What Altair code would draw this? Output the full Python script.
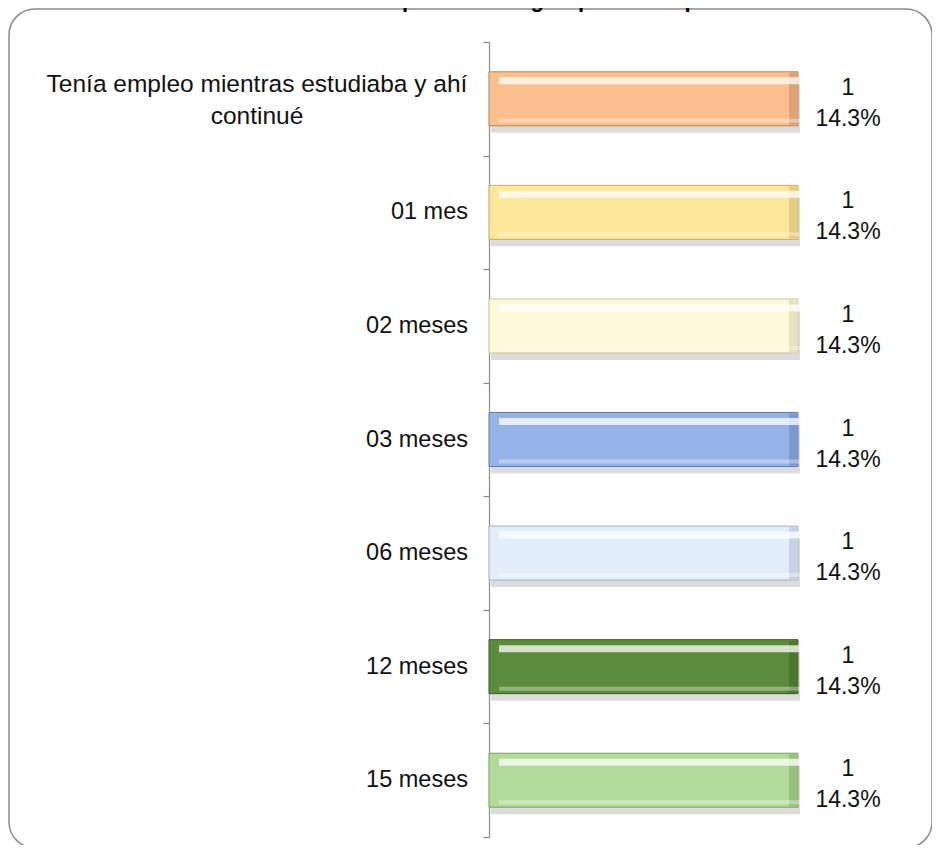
import altair as alt
import pandas as pd

title_text = "Gráfico 1: Tiempo en conseguir primer empleo"
categories = [
    "Tenía empleo mientras estudiaba y ahí\ncontinué",
    "01 mes",
    "02 meses",
    "03 meses",
    "06 meses",
    "12 meses",
    "15 meses",
]
counts = [1, 1, 1, 1, 1, 1, 1]
percents = [14.3, 14.3, 14.3, 14.3, 14.3, 14.3, 14.3]
fill_colors = ["#FBBF8E", "#FDE79A", "#FEF9D9", "#95B3E7", "#E3EEFB", "#5B8C3B", "#B2DA98"]
edge_colors = ["#B9835A", "#C3AE62", "#C9C39E", "#5F7DB0", "#A4B2C4", "#3B5E25", "#78A060"]

df = pd.DataFrame({
    "cat": categories,
    "count": counts,
    "pct": percents,
    "multi": [("\n" in c) for c in categories],
})
df["vlabel"] = [f"{c}\n{p:.1f}%" for c, p in zip(df["count"], df["pct"])]

FONT = "Liberation Sans"

yenc = alt.Y("cat:N", sort=categories,
             scale=alt.Scale(paddingInner=0, paddingOuter=0),
             axis=alt.Axis(title=None, labels=False, ticks=True, tickSize=6,
                           tickColor="#8a8a8a", domainColor="#8a8a8a",
                           tickBand="extent", grid=False, domainWidth=1.2, tickWidth=1.2))
xscale = alt.Scale(domain=[0, 1.424], nice=False)
xenc = alt.X("count:Q", scale=xscale, axis=None)
colenc = alt.Color("cat:N", scale=alt.Scale(domain=categories, range=fill_colors), legend=None)
edge_stroke = alt.Stroke("cat:N", scale=alt.Scale(domain=categories, range=edge_colors), legend=None)
edge_fill = alt.Fill("cat:N", scale=alt.Scale(domain=categories, range=edge_colors), legend=None)

base = alt.Chart(df)

shadow = base.mark_bar(size=54, color="#9a9a9a", opacity=0.35, yOffset=7, xOffset=2, x2Offset=4).encode(
    y=yenc, x=xenc)
main = base.mark_bar(size=54, strokeWidth=1).encode(
    y=yenc, x=xenc, color=colenc, stroke=edge_stroke)
edge = base.mark_tick(thickness=8, size=52, fillOpacity=0.45, strokeOpacity=0, xOffset=-5,
                      orient="vertical").encode(
    y=yenc, x=xenc, fill=edge_fill)
highlight = base.mark_bar(size=7, color="white", opacity=0.75, yOffset=-18, xOffset=10, x2Offset=-10).encode(
    y=yenc, x=xenc)
lowlight = base.mark_bar(size=4, color="white", opacity=0.35, yOffset=22, xOffset=10, x2Offset=-10).encode(
    y=yenc, x=xenc)

vlabels = base.mark_text(font=FONT, fontSize=23, align="center", baseline="middle",
                         lineBreak="\n", lineHeight=31, dx=50, dy=-11, color="#111111").encode(
    y=yenc, x=xenc, text="vlabel:N")

cat_single = base.transform_filter("!datum.multi").mark_text(
    font=FONT, fontSize=23.5, align="right", baseline="middle", color="#111111").encode(
    y=yenc, x=alt.value(-21), text="cat:N")
cat_multi = base.transform_filter("datum.multi").mark_text(
    font=FONT, fontSize=24.5, align="center", baseline="middle", lineBreak="\n",
    lineHeight=32, dy=-14, color="#111111").encode(
    y=yenc, x=alt.value(-232), text="cat:N")

frame_df = pd.DataFrame({"k": [0]})
frame = alt.Chart(frame_df).mark_rect(fillOpacity=0, stroke="#8c8c8c", strokeWidth=1.5,
                                      cornerRadius=26).encode(
    x=alt.value(-480), x2=alt.value(443), y=alt.value(-33), y2=alt.value(806))

title_df = pd.DataFrame({"t": [title_text]})
title = alt.Chart(title_df).mark_text(font=FONT, fontSize=22, fontWeight="bold", align="center",
                                      baseline="alphabetic", color="#000000").encode(
    x=alt.value(-3), y=alt.value(-35), text="t:N")

chart = alt.layer(frame, title, shadow, main, edge, highlight, lowlight, vlabels, cat_single, cat_multi).properties(
    width=440, height=795,
    padding={"left": 481, "top": 34, "right": 3, "bottom": 8},
    autosize=alt.AutoSizeParams(type="none"),
    view=alt.ViewBackground(stroke="transparent", fill="white"),
).configure_view(stroke="transparent").configure(background="white")

chart.save("out.html", embed_options={"renderer": "svg", "actions": False})
